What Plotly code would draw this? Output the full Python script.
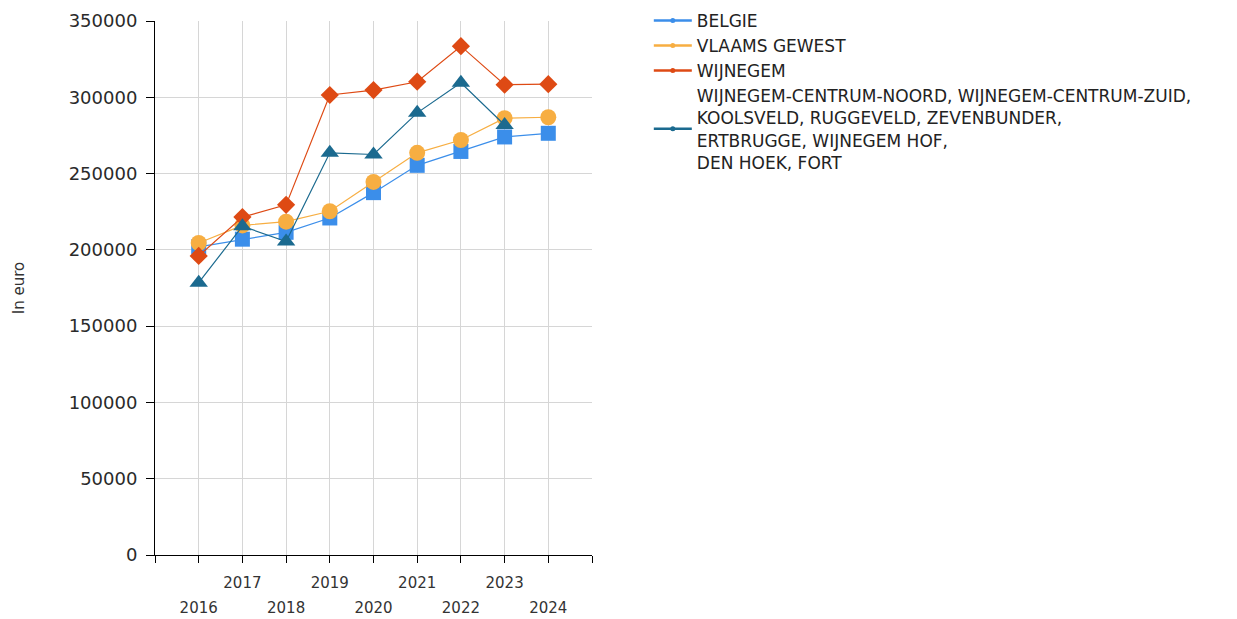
import plotly.graph_objects as go

years = [2016, 2017, 2018, 2019, 2020, 2021, 2022, 2023, 2024]

belgie = [202000, 207000, 211500, 220900, 237500, 255400, 264500, 274000, 276400]
vlaams_gewest = [204500, 216000, 218500, 225300, 244500, 263600, 272000, 286300, 286900]
wijnegem = [196000, 221500, 229500, 301500, 304700, 310200, 333500, 308200, 308600]
wijnegem_wijken = [178500, 215500, 205500, 263600, 262500, 289800, 309500, 281800, None]

series = [
    ("BELGIE", belgie, "#3b8eea", "square", 15),
    ("VLAAMS GEWEST", vlaams_gewest, "#f7ae42", "circle", 16),
    ("WIJNEGEM", wijnegem, "#de4a14", "diamond", 14),
    ("WIJNEGEM-CENTRUM-NOORD, WIJNEGEM-CENTRUM-ZUID,<br>KOOLSVELD, RUGGEVELD, ZEVENBUNDER,<br>"
     "ERTBRUGGE, WIJNEGEM HOF,<br>DEN HOEK, FORT", wijnegem_wijken, "#1b6a8f", "triangle-up", 16),
]

axis_ticks = list(range(2015, 2026))
odd_labels = [str(y) if y % 2 == 1 and y in years else "" for y in axis_ticks]
even_years = [y for y in years if y % 2 == 0]

FONT = "DejaVu Sans, Verdana, sans-serif"

fig = go.Figure()

# data traces (no legend)
for name, vals, color, symbol, size in series:
    fig.add_trace(go.Scatter(
        x=years, y=vals, mode="lines+markers",
        line=dict(color=color, width=1.2),
        marker=dict(symbol=symbol, size=size, color=color),
        showlegend=False, connectgaps=False,
    ))

# legend entries with small dots
for i, (name, vals, color, symbol, size) in enumerate(series):
    fig.add_trace(go.Scatter(
        x=[None], y=[None], mode="lines+markers", name=name,
        legendgroup=f"g{i}",
        line=dict(color=color, width=2.5),
        marker=dict(symbol="circle", size=5, color=color),
    ))

# hidden trace for the second row of year labels
fig.add_trace(go.Scatter(x=even_years, y=[None] * len(even_years), xaxis="x2",
                         showlegend=False, hoverinfo="skip"))

fig.update_layout(
    width=1237, height=619,
    margin=dict(l=147, r=653, t=13, b=72, autoexpand=False),
    plot_bgcolor="white", paper_bgcolor="white",
    font=dict(family=FONT, color="#333333"),
    legend=dict(x=1.13, y=1.034, xanchor="left", yanchor="top",
                font=dict(size=17, color="#222222"), tracegroupgap=0,
                itemwidth=38, bgcolor="rgba(0,0,0,0)"),
    xaxis=dict(
        range=[2015, 2025], tickvals=axis_ticks, ticktext=odd_labels,
        showgrid=True, gridcolor="#d6d6d6", gridwidth=1,
        showline=True, linecolor="black", linewidth=1,
        ticks="outside", ticklen=7, tickcolor="black", ticklabelstandoff=7,
        tickfont=dict(size=15, color="#333333"), zeroline=False,
    ),
    xaxis2=dict(
        range=[2015, 2025], overlaying="x", anchor="y", side="bottom",
        tickvals=even_years, ticktext=[str(y) for y in even_years],
        showgrid=False, showline=False, ticks="", zeroline=False,
        ticklabelstandoff=42, tickfont=dict(size=15, color="#333333"),
    ),
    yaxis=dict(
        range=[0, 350000], dtick=50000, tickformat="d",
        showgrid=True, gridcolor="#d6d6d6", gridwidth=1,
        showline=True, linecolor="black", linewidth=1,
        ticks="outside", ticklen=8, tickcolor="black", ticklabelstandoff=5,
        tickfont=dict(size=18, color="#2a2a2a"), zeroline=False,
        title=dict(text="In euro", font=dict(size=15, color="#333333"), standoff=40),
    ),
)

fig.write_html("out.html")
